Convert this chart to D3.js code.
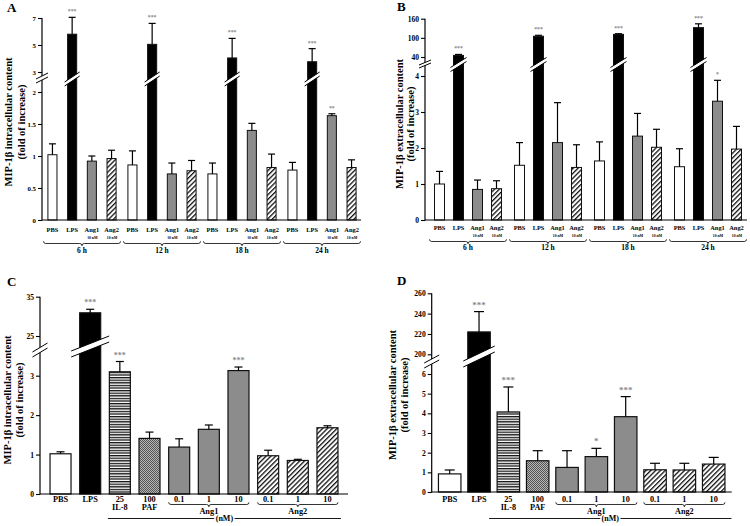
<!DOCTYPE html>
<html><head><meta charset="utf-8">
<script src="https://cdn.jsdelivr.net/npm/d3@7"></script>
<style>
body{margin:0;background:#fff}
svg{display:block}
text{font-family:"Liberation Serif","Times New Roman",serif;font-weight:bold}
</style>
</head><body>
<svg id="chart" width="750" height="526"></svg>
<script>
// ---------------- DATA ----------------
const timeGroups = ["6 h", "12 h", "18 h", "24 h"];
const timeTreatments = ["PBS", "LPS", "Ang1", "Ang2"];
const timeSubLabels = ["", "", "10 nM", "10 nM"];

// Panel A: intracellular, time course (order: group x treatment)
const aMeans  = [1.02, 5.80, 0.92, 0.96,  0.86, 5.05, 0.72, 0.77,  0.72, 4.04, 1.40, 0.82,  0.78, 3.76, 1.63, 0.82];
const aErrors = [0.17, 1.25, 0.08, 0.13,  0.22, 1.55, 0.17, 0.16,  0.17, 1.45, 0.11, 0.21,  0.12, 0.97, 0.03, 0.12];
const aStars  = ["", "***", "", "",  "", "***", "", "",  "", "***", "", "",  "", "***", "**", ""];
const aLowerTicks = [0, 0.5, 1, 1.5, 2];
const aUpperTicks = [3, 5, 7];

// Panel B: extracellular, time course
const bMeans  = [1.00, 45, 0.85, 0.87,  1.52, 105, 2.15, 1.46,  1.64, 111, 2.33, 2.02,  1.48, 132, 3.30, 1.97];
const bErrors = [0.35, 3, 0.26, 0.22,   0.63, 3, 1.11, 0.63,    0.53, 2, 0.63, 0.50,    0.50, 12, 0.58, 0.63];
const bStars  = ["", "***", "", "",  "", "***", "", "",  "", "***", "", "",  "", "***", "*", ""];
const bLowerTicks = [0, 1, 2, 3, 4];
const bUpperTicks = [40, 100, 160];

// Panels C/D: dose response
const doseCategories = ["PBS", "LPS", "IL-8 25", "PAF 100", "Ang1 0.1", "Ang1 1", "Ang1 10", "Ang2 0.1", "Ang2 1", "Ang2 10"];
const doseLabels     = ["PBS", "LPS", "25", "100", "0.1", "1", "10", "0.1", "1", "10"];
const doseSubLabels  = ["", "", "IL-8", "PAF", "", "", "", "", "", ""];
const doseTypes      = ["PBS", "LPS", "IL8", "PAF", "Ang1", "Ang1", "Ang1", "Ang2", "Ang2", "Ang2"];
const doseBraces     = [{label: "Ang1", from: "Ang1 0.1", to: "Ang1 10"}, {label: "Ang2", from: "Ang2 0.1", to: "Ang2 10"}];
const doseUnit = "(nM)";

const cMeans  = [1.02, 30.9, 3.10, 1.41, 1.19, 1.64, 3.13, 0.97, 0.85, 1.68];
const cErrors = [0.05, 0.9, 0.26, 0.16, 0.21, 0.11, 0.09, 0.14, 0.03, 0.05];
const cStars  = ["", "***", "***", "", "", "", "***", "", "", ""];
const cLowerTicks = [0, 1, 2, 3];
const cUpperTicks = [25, 35];

const dMeans  = [0.92, 222, 4.07, 1.59, 1.25, 1.80, 3.83, 1.13, 1.12, 1.42];
const dErrors = [0.20, 20, 1.27, 0.51, 0.85, 0.42, 1.02, 0.33, 0.34, 0.34];
const dStars  = ["", "***", "***", "", "", "*", "***", "", "", ""];
const dLowerTicks = [0, 1, 2, 3, 4, 5, 6];
const dUpperTicks = [200, 220, 240, 260];

// ---------------- STYLE ----------------
const svg = d3.select("#chart");
const defs = svg.append("defs");
defs.append("pattern").attr("id", "hatch").attr("patternUnits", "userSpaceOnUse")
  .attr("width", 3.4).attr("height", 3.4).attr("patternTransform", "rotate(45)")
  .call(p => {
    p.append("rect").attr("width", 3.4).attr("height", 3.4).attr("fill", "#fff");
    p.append("rect").attr("width", 1.3).attr("height", 3.4).attr("fill", "#111");
  });
defs.append("pattern").attr("id", "hstripe").attr("patternUnits", "userSpaceOnUse")
  .attr("width", 4).attr("height", 2.6)
  .call(p => {
    p.append("rect").attr("width", 4).attr("height", 2.6).attr("fill", "#fff");
    p.append("rect").attr("width", 4).attr("height", 1.3).attr("fill", "#111");
  });
defs.append("pattern").attr("id", "dots").attr("patternUnits", "userSpaceOnUse")
  .attr("width", 2).attr("height", 2)
  .call(p => {
    p.append("rect").attr("width", 2).attr("height", 2).attr("fill", "#b5b5b5");
    p.append("rect").attr("width", 1).attr("height", 1).attr("fill", "#555");
    p.append("rect").attr("x", 1).attr("y", 1).attr("width", 1).attr("height", 1).attr("fill", "#555");
  });
const fills = {PBS: "#fff", LPS: "#000", Ang1: "#8c8c8c", Ang2: "url(#hatch)", IL8: "url(#hstripe)", PAF: "url(#dots)"};

function drawBreak(g, cx, cy, half, rise, gap) {
  const x1 = cx - half, x2 = cx + half;
  const pts = [[x1, cy + rise / 2 - gap / 2], [x2, cy - rise / 2 - gap / 2], [x2, cy - rise / 2 + gap / 2], [x1, cy + rise / 2 + gap / 2]];
  g.append("polygon").attr("points", pts.map(p => p.join(",")).join(" ")).attr("fill", "#fff");
  g.append("line").attr("x1", pts[0][0]).attr("y1", pts[0][1]).attr("x2", pts[1][0]).attr("y2", pts[1][1]).attr("stroke", "#000").attr("stroke-width", 1);
  g.append("line").attr("x1", pts[3][0]).attr("y1", pts[3][1]).attr("x2", pts[2][0]).attr("y2", pts[2][1]).attr("stroke", "#000").attr("stroke-width", 1);
}

function brace(g, x1, x2, y, h) {
  const m = (x1 + x2) / 2;
  g.append("path")
    .attr("d", `M${x1},${y - h} Q${x1},${y} ${x1 + h},${y} L${m - h},${y} Q${m},${y} ${m},${y + h} Q${m},${y} ${m + h},${y} L${x2 - h},${y} Q${x2},${y} ${x2},${y - h}`)
    .attr("fill", "none").attr("stroke", "#000").attr("stroke-width", 0.8);
}

function drawPanel(cfg, rows) {
  const g = svg.append("g");
  const yL = d3.scaleLinear().domain(cfg.lower).range(cfg.lowerRange);
  const yU = d3.scaleLinear().domain(cfg.upper).range(cfg.upperRange);
  const y = v => v < cfg.split ? yL(v) : yU(v);
  const y0 = yL(0);

  // bars
  g.selectAll("rect.bar").data(rows).join("rect").attr("class", "bar")
    .attr("x", d => d.x).attr("y", d => y(d.mean)).attr("width", d => d.w).attr("height", d => y0 - y(d.mean))
    .attr("fill", d => fills[d.type]).attr("stroke", "#111").attr("stroke-width", cfg.barStroke);
  // error bars
  rows.forEach(d => {
    const cx = d.x + d.w / 2, yt = y(d.mean + d.err);
    g.append("line").attr("x1", cx).attr("x2", cx).attr("y1", y(d.mean)).attr("y2", yt).attr("stroke", "#000").attr("stroke-width", 1.2);
    g.append("line").attr("x1", cx - cfg.cap / 2).attr("x2", cx + cfg.cap / 2).attr("y1", yt).attr("y2", yt).attr("stroke", "#000").attr("stroke-width", 1.2);
    if (d.star) {
      g.append("text").attr("x", cx).attr("y", yt - 4).attr("text-anchor", "middle")
        .attr("font-size", cfg.starFont).attr("fill", "#8a8a8a").text(d.star);
    }
  });
  // breaks on bars
  rows.filter(d => d.mean >= cfg.split).forEach(d =>
    drawBreak(g, d.x + d.w / 2, cfg.barBreakY, d.w / 2 + cfg.barBreakExt, cfg.barBreakRise, cfg.barBreakGap));

  // axes
  const styleAxis = sel => {
    sel.select(".domain").remove();
    sel.selectAll("line").attr("stroke", "#000").attr("stroke-width", 1.1);
    sel.selectAll("text").attr("font-size", cfg.tickFont).attr("font-family", "Liberation Serif, Times New Roman, serif").attr("font-weight", "bold").attr("fill", "#000");
  };
  g.append("g").attr("transform", `translate(${cfg.axisX},0)`)
    .call(d3.axisLeft(yL).tickValues(cfg.lowerTicks).tickSize(4).tickPadding(2).tickFormat(d => d)).call(styleAxis);
  g.append("g").attr("transform", `translate(${cfg.axisX},0)`)
    .call(d3.axisLeft(yU).tickValues(cfg.upperTicks).tickSize(4).tickPadding(2).tickFormat(d => d)).call(styleAxis);
  g.append("line").attr("x1", cfg.axisX).attr("x2", cfg.axisX).attr("y1", yU(cfg.upper[1])).attr("y2", y0 + 0.5).attr("stroke", "#000").attr("stroke-width", 1.2);
  g.append("line").attr("x1", cfg.axisX).attr("x2", cfg.xEnd).attr("y1", y0).attr("y2", y0).attr("stroke", "#000").attr("stroke-width", 1.2);
  drawBreak(g, cfg.axisX, cfg.axisBreakY, cfg.axisBreakHalf, cfg.axisBreakRise, cfg.axisBreakGap);

  // y label
  cfg.yLabel.forEach((t, i) => {
    g.append("text").attr("transform", `translate(${cfg.yLabelX[i]},${cfg.yLabelY}) rotate(-90)`)
      .attr("text-anchor", "middle").attr("dominant-baseline", "central").attr("font-size", cfg.yLabelFont).text(t);
  });
  // panel letter
  g.append("text").attr("x", cfg.letterX).attr("y", cfg.letterY).attr("font-size", 13).text(cfg.letter);
  return g;
}

function timePanel(cfg, means, errs, stars) {
  const x0 = d3.scaleBand().domain(timeGroups).range(cfg.groupRange);
  const x1 = d3.scaleBand().domain(timeTreatments).range([0, x0.bandwidth()]).paddingInner(cfg.padIn).paddingOuter(cfg.padOut);
  const rows = timeGroups.flatMap((gr, gi) => timeTreatments.map((t, ti) => ({
    group: gr, type: t, x: x0(gr) + x1(t), w: x1.bandwidth(),
    mean: means[gi * 4 + ti], err: errs[gi * 4 + ti], star: stars[gi * 4 + ti]
  })));
  const g = drawPanel(cfg, rows);
  rows.forEach((d, i) => {
    const cx = d.x + d.w / 2;
    g.append("text").attr("x", cx).attr("y", cfg.labelY).attr("text-anchor", "middle").attr("font-size", cfg.labelFont).text(d.type);
    const sub = timeSubLabels[i % 4];
    if (sub) g.append("text").attr("x", cx + 0.5).attr("y", cfg.subY).attr("text-anchor", "middle").attr("font-size", cfg.subFont).text(sub);
  });
  timeGroups.forEach(gr => {
    const a = x0(gr) + 1.5, b = x0(gr) + x0.bandwidth() - 1.5;
    brace(g, a, b, cfg.braceY, 2.2);
    g.append("text").attr("x", (a + b) / 2).attr("y", cfg.groupLabelY).attr("text-anchor", "middle").attr("font-size", cfg.groupFont).text(gr);
  });
}

function dosePanel(cfg, means, errs, stars) {
  const x = d3.scaleBand().domain(doseCategories).range(cfg.xRange).paddingInner(cfg.padIn).paddingOuter(cfg.padOut);
  const rows = doseCategories.map((c, i) => ({
    cat: c, type: doseTypes[i], x: x(c), w: x.bandwidth(), mean: means[i], err: errs[i], star: stars[i]
  }));
  const g = drawPanel(cfg, rows);
  rows.forEach((d, i) => {
    const cx = d.x + d.w / 2;
    g.append("text").attr("x", cx).attr("y", cfg.labelY).attr("text-anchor", "middle").attr("font-size", cfg.labelFont).text(doseLabels[i]);
    if (doseSubLabels[i]) g.append("text").attr("x", cx).attr("y", cfg.subY).attr("text-anchor", "middle").attr("font-size", cfg.labelFont).text(doseSubLabels[i]);
  });
  doseBraces.forEach(b => {
    const a = x(b.from), e = x(b.to) + x.bandwidth();
    brace(g, a, e, cfg.braceY, 2.2);
    g.append("text").attr("x", (a + e) / 2).attr("y", cfg.braceLabelY).attr("text-anchor", "middle").attr("font-size", cfg.labelFont).text(b.label);
  });
  const ls = x("IL-8 25") - cfg.unitExt[0], le = x("Ang2 10") + x.bandwidth() + cfg.unitExt[1];
  g.append("line").attr("x1", ls).attr("x2", le).attr("y1", cfg.unitY).attr("y2", cfg.unitY).attr("stroke", "#000").attr("stroke-width", 0.9);
  const bg = g.append("rect").attr("fill", "#fff");
  const t = g.append("text").attr("x", (ls + le) / 2).attr("y", cfg.unitY + cfg.unitFont * 0.32)
    .attr("text-anchor", "middle").attr("font-size", cfg.unitFont).text(doseUnit);
  const w = t.node().getComputedTextLength();
  bg.attr("x", (ls + le) / 2 - w / 2 - 1.5).attr("y", cfg.unitY - 1).attr("width", w + 3).attr("height", 2);
}

// ---------------- PANELS ----------------
timePanel({
  letter: "A", letterX: 7, letterY: 12,
  axisX: 42, xEnd: 361, lower: [0, 2], lowerRange: [220, 92], upper: [3, 7], upperRange: [72, 18], split: 2.5,
  lowerTicks: aLowerTicks, upperTicks: aUpperTicks, tickFont: 6.8,
  groupRange: [42, 362], padIn: 0.54, padOut: 0.3, barStroke: 1,
  axisBreakY: 78, axisBreakHalf: 6, axisBreakRise: 6, axisBreakGap: 4,
  barBreakY: 79, barBreakExt: 3, barBreakRise: 10, barBreakGap: 4,
  cap: 7, starFont: 5.8,
  labelY: 232.3, subY: 239, braceY: 243.5, groupLabelY: 252.7, labelFont: 6.4, subFont: 3.8, groupFont: 7.5,
  yLabel: ["MIP-1β intracellular content", "(fold of increase)"], yLabelX: [8, 21], yLabelY: 122, yLabelFont: 10.5
}, aMeans, aErrors, aStars);

timePanel({
  letter: "B", letterX: 397, letterY: 11,
  axisX: 425, xEnd: 747, lower: [0, 4], lowerRange: [220, 76], upper: [40, 160], upperRange: [57, 18.7], split: 10,
  lowerTicks: bLowerTicks, upperTicks: bUpperTicks, tickFont: 7.5,
  groupRange: [428, 748], padIn: 0.474, padOut: 0.342, barStroke: 1,
  axisBreakY: 64, axisBreakHalf: 6, axisBreakRise: 5, axisBreakGap: 3,
  barBreakY: 64.5, barBreakExt: 3, barBreakRise: 10, barBreakGap: 4,
  cap: 7, starFont: 5.8,
  labelY: 229.6, subY: 237, braceY: 241.5, groupLabelY: 250.4, labelFont: 6.4, subFont: 3.8, groupFont: 7.5,
  yLabel: ["MIP-1β extracellular content", "(fold of increase)"], yLabelX: [399.5, 410], yLabelY: 124, yLabelFont: 10.5
}, bMeans, bErrors, bStars);

dosePanel({
  letter: "C", letterX: 7, letterY: 286,
  axisX: 40, xEnd: 348, lower: [0, 3], lowerRange: [494, 375.7], upper: [25, 35], upperRange: [336, 296.7], split: 10,
  lowerTicks: cLowerTicks, upperTicks: cUpperTicks, tickFont: 7.6,
  xRange: [40, 348], padIn: 0.292, padOut: 0.338, barStroke: 1.2,
  axisBreakY: 350, axisBreakHalf: 7.5, axisBreakRise: 9, axisBreakGap: 5,
  barBreakY: 346.5, barBreakExt: 8.5, barBreakRise: 15, barBreakGap: 6,
  cap: 8, starFont: 8,
  labelY: 501.5, subY: 510, braceY: 504.5, braceLabelY: 513.5, labelFont: 8.3,
  unitY: 518.5, unitFont: 8, unitExt: [1.5, 3],
  yLabel: ["MIP-1β intracellular content", "(fold of increase)"], yLabelX: [7.5, 19.5], yLabelY: 400, yLabelFont: 10.5
}, cMeans, cErrors, cStars);

dosePanel({
  letter: "D", letterX: 397, letterY: 285,
  axisX: 431.7, xEnd: 731.7, lower: [0, 6], lowerRange: [492, 374], upper: [200, 260], upperRange: [354.3, 293.3], split: 100,
  lowerTicks: dLowerTicks, upperTicks: dUpperTicks, tickFont: 7.6,
  xRange: [431.7, 731.7], padIn: 0.233, padOut: 0.23, barStroke: 1.2,
  axisBreakY: 361.5, axisBreakHalf: 7.5, axisBreakRise: 8, axisBreakGap: 5,
  barBreakY: 356.5, barBreakExt: 4.5, barBreakRise: 15, barBreakGap: 6,
  cap: 10, starFont: 9,
  labelY: 501.5, subY: 510, braceY: 504.5, braceLabelY: 513.5, labelFont: 8.2,
  unitY: 518.5, unitFont: 8, unitExt: [8, 6.5],
  yLabel: ["MIP-1β extracellular content", "(fold of increase)"], yLabelX: [392, 404.5], yLabelY: 395, yLabelFont: 10.5
}, dMeans, dErrors, dStars);
</script>
</body></html>
